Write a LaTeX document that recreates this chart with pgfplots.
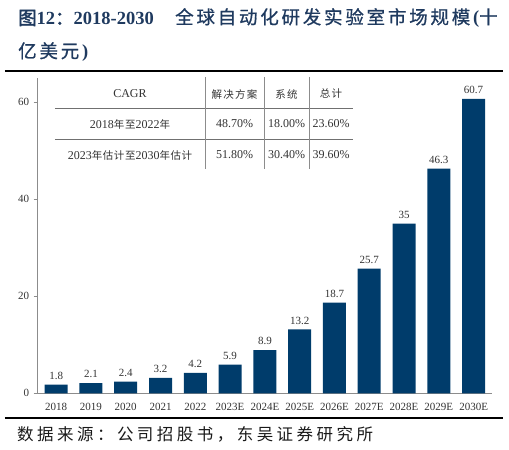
\documentclass[border=0pt]{standalone}
\usepackage{pgfplots}
\pgfplotsset{compat=1.18}
\usepackage{fontspec}
\setmainfont{Liberation Serif}
\newfontfamily\cjk{Noto Sans CJK SC}
\newfontfamily\cjktab[LetterSpace=5]{Noto Sans CJK SC}
\newfontfamily\cjkhead[LetterSpace=12]{Noto Sans CJK SC}
\newfontfamily\cjktitle[LetterSpace=15,FakeBold=0.8]{Noto Sans CJK SC}
\newfontfamily\cjktitleb[FakeBold=2]{Noto Sans CJK SC}
\newfontfamily\cjksrc[LetterSpace=21]{Noto Sans CJK SC}
\definecolor{barblue}{HTML}{003C6B}
\definecolor{titleblue}{HTML}{1F3A5F}
\definecolor{axgray}{HTML}{8C8C8C}
\definecolor{txtgray}{HTML}{333333}
\definecolor{tabline}{HTML}{707070}
\begin{document}
\begin{tikzpicture}[x=1pt,y=1pt]
\begin{scope}[shift={(-37.7,393.3)},yscale=-1]
\path[use as bounding box] (0,0) rectangle (509,450);
\end{scope}
\begin{axis}[at={(0,0)},anchor=south west,
  scale only axis, width=454pt, height=315.3pt,
  xmin=-0.53, xmax=12.52, ymin=0, ymax=65,
  axis x line*=bottom, axis y line*=left,
  axis line style={axgray, line width=0.8pt},
  ytick={0,20,40,60},
  xtick={0,...,12},
  xticklabels={2018,2019,2020,2021,2022,2023E,2024E,2025E,2026E,2027E,2028E,2029E,2030E},
  xtick style={draw=none},
  ytick style={axgray, line width=0.8pt},
  tick align=outside, major tick length=4pt,
  /pgf/number format/assume math mode=true,
  tick label style={font=\fontsize{11}{12}\selectfont, text=txtgray},
  xticklabel style={yshift=-2pt},
  yticklabel style={xshift=-1pt},
  ybar, bar width=23pt,
  clip=false,
  point meta=explicit symbolic,
  nodes near coords,
  nodes near coords style={font=\fontsize{11}{12}\selectfont, text=txtgray, yshift=1.5pt},
]
\addplot[fill=barblue, draw=none] coordinates {
 (0,1.8) [1.8]
 (1,2.1) [2.1]
 (2,2.4) [2.4]
 (3,3.2) [3.2]
 (4,4.2) [4.2]
 (5,5.9) [5.9]
 (6,8.9) [8.9]
 (7,13.2) [13.2]
 (8,18.7) [18.7]
 (9,25.7) [25.7]
 (10,35) [35]
 (11,46.3) [46.3]
 (12,60.7) [60.7]
};
\end{axis}
\begin{scope}[shift={(-37.7,393.3)},yscale=-1]
% rules
\draw[line width=2pt, black] (5,71) -- (503,71);
\draw[line width=2pt, black] (5,417.5) -- (503,417.5);
% title
\node[anchor=west, inner sep=0, text=titleblue] at (18,18)
  {\fontsize{18.5}{20}\selectfont{\cjktitleb 图}\textbf{12}{\cjktitleb ：}\textbf{2018-2030}};
\node[anchor=west, inner sep=0, text=titleblue] at (175,18)
  {\fontsize{18.5}{20}\selectfont{\cjktitle 全球自动化研发实验室市场规模}\textbf{(}{\cjktitle 十}};
\node[anchor=west, inner sep=0, text=titleblue] at (18,52)
  {\fontsize{18.5}{20}\selectfont{\cjktitle 亿美元}\textbf{)}};
% source
\node[anchor=west, inner sep=0, text=black!90] at (17,434)
  {\fontsize{16.5}{18}\selectfont\cjksrc 数据来源：公司招股书，东吴证券研究所};
% table
\draw[tabline, line width=0.8pt] (55,108.3) -- (353,108.3);
\draw[tabline, line width=0.8pt] (55,139.3) -- (353,139.3);
\foreach \xx in {205,264,309} {\draw[axgray, line width=0.8pt] (\xx,77) -- (\xx,169);}
\begin{scope}[every node/.style={text=txtgray, inner sep=0, font=\fontsize{12}{13}\selectfont}]
\node at (130,94) {CAGR};
\node at (234.5,94) {\fontsize{10.5}{12}\selectfont\cjkhead 解决方案};
\node at (286.5,94) {\fontsize{10.5}{12}\selectfont\cjkhead 系统};
\node at (331,94) {\fontsize{10.5}{12}\selectfont\cjkhead 总计};
\node at (130,124) {2018{\fontsize{10.5}{12}\selectfont\cjktab 年至}2022{\fontsize{10.5}{12}\selectfont\cjktab 年}};
\node at (234.5,124) {48.70\%};
\node at (286.5,124) {18.00\%};
\node at (331,124) {23.60\%};
\node at (130,155) {2023{\fontsize{10.5}{12}\selectfont\cjktab 年估计至}2030{\fontsize{10.5}{12}\selectfont\cjktab 年估计}};
\node at (234.5,155) {51.80\%};
\node at (286.5,155) {30.40\%};
\node at (331,155) {39.60\%};
\end{scope}
\end{scope}
\end{tikzpicture}
\end{document}
